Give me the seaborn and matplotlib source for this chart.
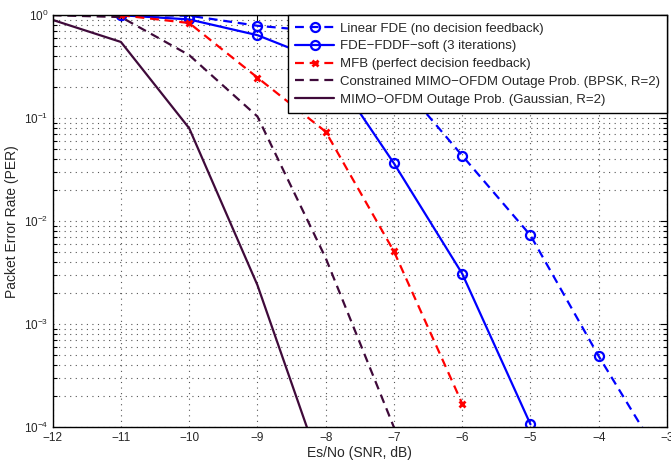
import numpy as np
import pandas as pd
import matplotlib
matplotlib.use("Agg")
import matplotlib.pyplot as plt
import seaborn as sns
from matplotlib.ticker import LogLocator, NullFormatter

# ---- data ----
snr_lin = [-11, -10, -9, -8, -7, -6, -5, -4, -3]
per_lin = [1.0, 0.99, 0.79, 0.69, 0.26, 0.0434, 0.0073, 4.9e-4, 4.0e-5]

snr_fddf = [-11, -10, -9, -8, -7, -6, -5]
per_fddf = [1.0, 0.91, 0.64, 0.35, 0.0365, 3.1e-3, 1.07e-4]

snr_mfb = [-11, -10, -9, -8, -7, -6]
per_mfb = [1.0, 0.84, 0.248, 0.074, 5.1e-3, 1.7e-4]

snr_con = [-12, -11, -10, -9, -8, -7]
per_con = [1.0, 0.96, 0.41, 0.104, 4.4e-3, 1.0e-4]

snr_out = [-12, -11, -10, -9, -8]
per_out = [0.90, 0.55, 0.08, 2.4e-3, 3.0e-5]

labels = [
    "Linear FDE (no decision feedback)",
    "FDE\u2212FDDF\u2212soft (3 iterations)",
    "MFB (perfect decision feedback)",
    "Constrained MIMO\u2212OFDM Outage Prob. (BPSK, R=2)",
    "MIMO\u2212OFDM Outage Prob. (Gaussian, R=2)",
]
xticks = [-12, -11, -10, -9, -8, -7, -6, -5, -4, -3]

sns.set_theme(style="white")
plt.rcParams['font.family'] = ['Liberation Sans', 'DejaVu Sans']
plt.rcParams['mathtext.fontset'] = 'custom'
plt.rcParams['mathtext.rm'] = 'Liberation Sans'
plt.rcParams['mathtext.it'] = 'Liberation Sans:italic'

fig = plt.figure(figsize=(6.71, 4.61), dpi=100)
ax = fig.add_axes([0.0785, 0.073, 0.994 - 0.0785, 0.967 - 0.073])

purple = '#3f0a3a'
dash = (0, (4.0, 2.6))
specs = [
    (snr_lin, per_lin, dict(color='#0000ff', linestyle=dash, marker='o', markersize=6.5,
                            markerfacecolor='none', markeredgewidth=1.6)),
    (snr_fddf, per_fddf, dict(color='#0000ff', linestyle='-', marker='o', markersize=6.5,
                              markerfacecolor='none', markeredgewidth=1.6)),
    (snr_mfb, per_mfb, dict(color='#ff0000', linestyle=dash, marker='x', markersize=5,
                            markeredgewidth=2)),
    (snr_con, per_con, dict(color=purple, linestyle=dash, marker='None')),
    (snr_out, per_out, dict(color=purple, linestyle='-', marker='None')),
]
handles = []
for (x, y, kw), lab in zip(specs, labels):
    df = pd.DataFrame({"snr": x, "per": y})
    n0 = len(ax.lines)
    sns.lineplot(data=df, x="snr", y="per", ax=ax, color=kw['color'], linewidth=1.6)
    line = ax.lines[n0]
    line.set_linestyle(kw['linestyle'])
    line.set_marker(kw['marker'])
    if kw['marker'] != 'None':
        line.set_markersize(kw['markersize'])
        line.set_markeredgewidth(kw['markeredgewidth'])
        line.set_markeredgecolor(kw['color'])
        line.set_markerfacecolor(kw.get('markerfacecolor', kw['color']))
    line.set_label(lab)
    handles.append(line)

ax.set_yscale('log')
ax.set_xlim(-12, -3)
ax.set_ylim(1e-4, 1)
ax.set_xticks(xticks)
ax.yaxis.set_major_locator(LogLocator(base=10, numticks=10))
ax.yaxis.set_minor_locator(LogLocator(base=10, subs=np.arange(2, 10), numticks=20))
ax.yaxis.set_minor_formatter(NullFormatter())
gridstyle = dict(linestyle=(0, (1, 4)), color='#555555', linewidth=0.8)
ax.grid(True, which='major', axis='both', **gridstyle)
ax.grid(True, which='minor', axis='y', **gridstyle)
ax.set_axisbelow(True)
ax.tick_params(which='both', direction='in', top=True, right=True, labelsize=8.5,
               color='black', width=0.8)
ax.tick_params(which='major', length=5, pad=3)
ax.tick_params(which='minor', length=3, left=True, right=True)
for s in ax.spines.values():
    s.set_color('black')
    s.set_linewidth(1.0)
ax.set_xlabel("Es/No (SNR, dB)", fontsize=10, labelpad=2)
ax.set_ylabel("Packet Error Rate (PER)", fontsize=10, labelpad=4)

leg = ax.legend(handles=handles, labels=labels, loc='upper right', fontsize=9.5,
                frameon=True, fancybox=False, borderaxespad=0, handlelength=3.0,
                labelspacing=0.42, borderpad=0.55, handletextpad=0.4)
leg.get_frame().set_edgecolor('black')
leg.get_frame().set_linewidth(1.0)
leg.get_frame().set_alpha(1)

fig.savefig("out.png", dpi=100)
